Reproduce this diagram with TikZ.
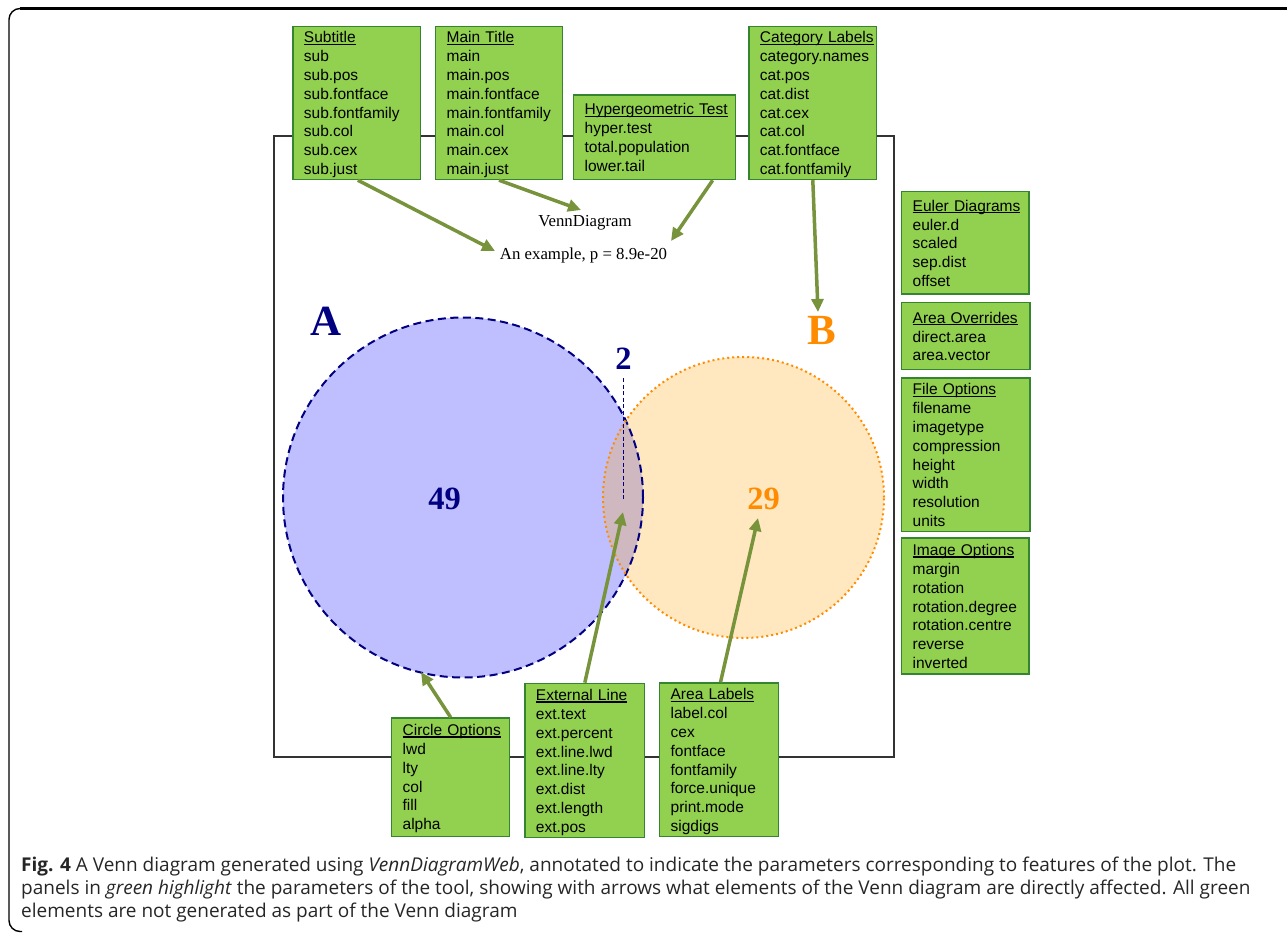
\documentclass[tikz,border=0pt]{standalone}
\usepackage{fontspec}
\setmainfont{Liberation Serif}
\newfontfamily\arialf{Liberation Sans}
\newfontfamily\capfont{Open Sans}
\usetikzlibrary{arrows.meta,calc}
\definecolor{boxfill}{HTML}{92D050}
\definecolor{boxline}{HTML}{358530}
\definecolor{arrowc}{HTML}{77933C}
\definecolor{navyc}{HTML}{000080}
\definecolor{orangec}{HTML}{FF8C00}
\definecolor{rorange}{HTML}{FFA500}
\definecolor{capc}{HTML}{262626}
\definecolor{plotc}{HTML}{333333}
\newcommand\hd[1]{\setbox0\hbox{#1}\rlap{\rule[-1.9pt]{\wd0}{1.1pt}}\box0}
\hyphenpenalty=10000
\exhyphenpenalty=10000
\begin{document}
\begin{tikzpicture}[x=1pt,y=-1pt,
  pbox/.style={draw=boxline, fill=boxfill, line width=1.3pt, anchor=north west,
    inner xsep=11pt, inner ysep=0pt, align=left,
    font=\arialf\fontsize{15.5}{18.8}\selectfont},
  parrow/.style={draw=arrowc, line width=3.5pt, -{Triangle[length=13pt,width=12pt]}},
  numlab/.style={font=\bfseries\fontsize{32.5}{32.5}\selectfont, inner sep=0pt, anchor=base},
  catlab/.style={font=\bfseries\fontsize{43}{43}\selectfont, inner sep=0pt, anchor=base},
  ttl/.style={font=\fontsize{16.8}{16.8}\selectfont, inner sep=0pt, anchor=base}]
\useasboundingbox (0,0) rectangle (1287,933);
% outer frame
\draw[black, line width=1.4pt, rounded corners=11pt] (1300,8.5) -- (9,8.5) -- (9,931.5) -- (22,931.5);
\draw[black, line width=2.4pt] (20,8.5) -- (1300,8.5);
% plot frame
\draw[plotc, line width=1.3pt] (274,136) rectangle (894,757);
% circles
\fill[blue, fill opacity=0.25] (463,497.5) circle[radius=180pt];
\fill[rorange, fill opacity=0.25] (743.5,497.5) circle[radius=140.5pt];
\draw[navyc, line width=2pt, dash pattern=on 8pt off 4.5pt] (463,497.5) circle[radius=180pt];
\draw[orangec, line width=2pt, dash pattern=on 2pt off 3pt] (743.5,497.5) circle[radius=140.5pt];
% texts in plot
\node[ttl] (vd) at (585,227) {VennDiagram};
\node[ttl] (ex) at (583.5,260) {An example, p = 8.9e-20};
\node[catlab, text=navyc] (labA) at (326,335) {A};
\node[catlab, text=orangec] (labB) at (822,344) {B};
\node[numlab, text=navyc] (n49) at (444.5,509) {49};
\node[numlab, text=orangec] (n29) at (763.5,509) {29};
\node[numlab, text=navyc] (n2) at (623.5,369) {2};
\coordinate (ext2) at (623.5,499);
\draw[navyc, line width=1pt, dash pattern=on 4pt off 2.5pt] ($(n2.south)+(0,9)$) -- (ext2);
% arrow tips
\coordinate (tSub) at (495,251);
\coordinate (tMain) at (581,210);
\coordinate (tHyp) at (671,241);
\coordinate (tCat) at (818,312);
\coordinate (tCirc) at (421,672);
\coordinate (tExt) at (623,512);
\coordinate (tLab) at (758,518);
% boxes
\node[pbox, text width=105.7pt] (sub) at (292.3,26) {\rule{0pt}{16.3pt}\hd{Subtitle}\\ sub\\ sub.pos\\ sub.fontface\\ sub.fontfamily\\ sub.col\\ sub.cex\\ sub.just\rule[-5pt]{0pt}{5pt}};
\node[pbox, text width=104.7pt] (main) at (435,26) {\rule{0pt}{16.3pt}\hd{Main Title}\\ main\\ main.pos\\ main.fontface\\ main.fontfamily\\ main.col\\ main.cex\\ main.just\rule[-5pt]{0pt}{5pt}};
\node[pbox, text width=140pt] (hyp) at (573,94.3) {\rule{0pt}{20pt}\hd{Hypergeometric Test}\\ hyper.test\\ total.population\\ lower.tail\rule[-8.3pt]{0pt}{8.3pt}};
\node[pbox, text width=105.7pt] (cat) at (748.3,26) {\rule{0pt}{16.3pt}\hd{Category Labels}\\ category.names\\ cat.pos\\ cat.dist\\ cat.cex\\ cat.col\\ cat.fontface\\ cat.fontfamily\rule[-5pt]{0pt}{5pt}};
\node[pbox, text width=105.3pt] (eul) at (901,190.7) {\rule{0pt}{20pt}\hd{Euler Diagrams}\\ euler.d\\ scaled\\ sep.dist\\ offset\rule[-7.5pt]{0pt}{7.5pt}};
\node[pbox, text width=106.3pt] (aov) at (901,301.7) {\rule{0pt}{21pt}\hd{Area Overrides}\\ direct.area\\ area.vector\rule[-8.7pt]{0pt}{8.7pt}};
\node[pbox, text width=106.3pt] (fil) at (901,377.3) {\rule{0pt}{17pt}\hd{File Options}\\ filename\\ imagetype\\ compression\\ height\\ width\\ resolution\\ units\rule[-5pt]{0pt}{5pt}};
\node[pbox, text width=105.3pt] (img) at (901,537.3) {\rule{0pt}{17.7pt}\hd{Image Options}\\ margin\\ rotation\\ rotation.degree\\ rotation.centre\\ reverse\\ inverted\rule[-5.5pt]{0pt}{5.5pt}};
\node[pbox, text width=96pt] (circ) at (391,717.3) {\rule{0pt}{17.7pt}\hd{Circle Options}\\ lwd\\ lty\\ col\\ fill\\ alpha\rule[-6.7pt]{0pt}{6.7pt}};
\node[pbox, text width=97.7pt] (ext) at (524.3,682.7) {\rule{0pt}{17.3pt}\hd{External Line}\\ ext.text\\ ext.percent\\ ext.line.lwd\\ ext.line.lty\\ ext.dist\\ ext.length\\ ext.pos\rule[-5pt]{0pt}{5pt}};
\node[pbox, text width=96.7pt] (alab) at (659,682.3) {\rule{0pt}{17pt}\hd{Area Labels}\\ label.col\\ cex\\ fontface\\ fontfamily\\ force.unique\\ print.mode\\ sigdigs\rule[-5pt]{0pt}{5pt}};
% arrows
\draw[parrow] ($(sub.south)+(1,0)$) -- (tSub);
\draw[parrow] (main.south) -- (tMain);
\draw[parrow] ($(hyp.south)+(58,0)$) -- (tHyp);
\draw[parrow] (cat.south) -- (tCat);
\draw[parrow] (circ.north) -- (tCirc);
\draw[parrow] (ext.north) -- (tExt);
\draw[parrow] ($(alab.north)+(1.5,0)$) -- (tLab);
% caption
\node[anchor=north west, inner sep=0pt, align=left, text=capc,
  font=\capfont\fontsize{19}{23}\selectfont] (cap) at (21,855)
  {\rule{0pt}{16pt}\textbf{Fig. 4} A Venn diagram generated using \textit{VennDiagramWeb}, annotated to indicate the parameters corresponding to features of the plot. The\\
   panels in \textit{green highlight} the parameters of the tool, showing with arrows what elements of the Venn diagram are directly affected. All green\\
   elements are not generated as part of the Venn diagram};
\end{tikzpicture}
\end{document}
